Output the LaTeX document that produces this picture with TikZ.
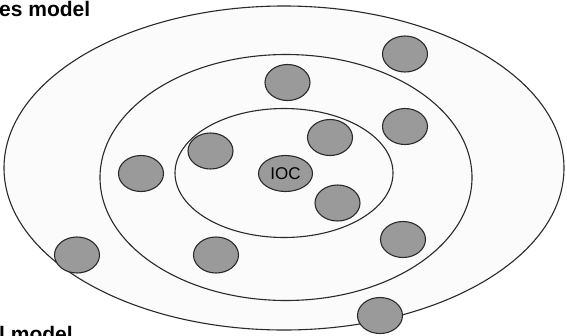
\documentclass[tikz,border=0pt]{standalone}
\usepackage{fontspec}
\setmainfont{Liberation Sans}
\usetikzlibrary{shapes.geometric}
\usepackage{xcolor}
\definecolor{RingBg}{HTML}{FBFBFB}
\definecolor{Member}{HTML}{9A9A9A}
\definecolor{Edge}{HTML}{2A2A2A}

\begin{document}
\begin{tikzpicture}[x=1pt, y=-1pt,
        ring/.style={ellipse, draw=Edge, line width=1.1pt, fill=RingBg, inner sep=0pt},
        member/.style={ellipse, draw=Edge, line width=1.1pt, fill=Member, inner sep=0pt, minimum width=45pt, minimum height=36pt},
        title/.style={anchor=base west, inner sep=0pt, font=\fontsize{21}{23}\selectfont\bfseries}
    ]
    \clip (0,0) rectangle (567,335);

    % Rings
    \node[ring, minimum width=560pt, minimum height=324pt] (outer) at (284,168) {};
    \node[ring, minimum width=372pt, minimum height=246pt] (middle) at (286,177.5) {};
    \node[ring, minimum width=218pt, minimum height=129pt] (inner) at (284,173) {};

    % Centre
    \node[member, minimum width=54pt, font=\fontsize{17}{19}\selectfont] (ioc) at (285.5,173.5) {IOC};

    % Inner ring
    \node[member] (in1) at (330,137.5) {};
    \node[member] (in2) at (210.5,151) {};
    \node[member] (in3) at (337.5,203) {};

    % Middle ring
    \node[member] (mid1) at (287.5,82.5) {};
    \node[member] (mid2) at (405,126.5) {};
    \node[member] (mid3) at (141,173.5) {};
    \node[member] (mid4) at (403,239.5) {};
    \node[member] (mid5) at (216,255) {};

    % Outer ring
    \node[member] (out1) at (405,54) {};
    \node[member] (out2) at (77,255) {};
    \node[member] (out3) at (380,315.5) {};

    % Captions
    \node[title] (top) at (-1,16) {es model};
    \node[title] (bottom) at (-1,341) {l model};
\end{tikzpicture}
\end{document}
